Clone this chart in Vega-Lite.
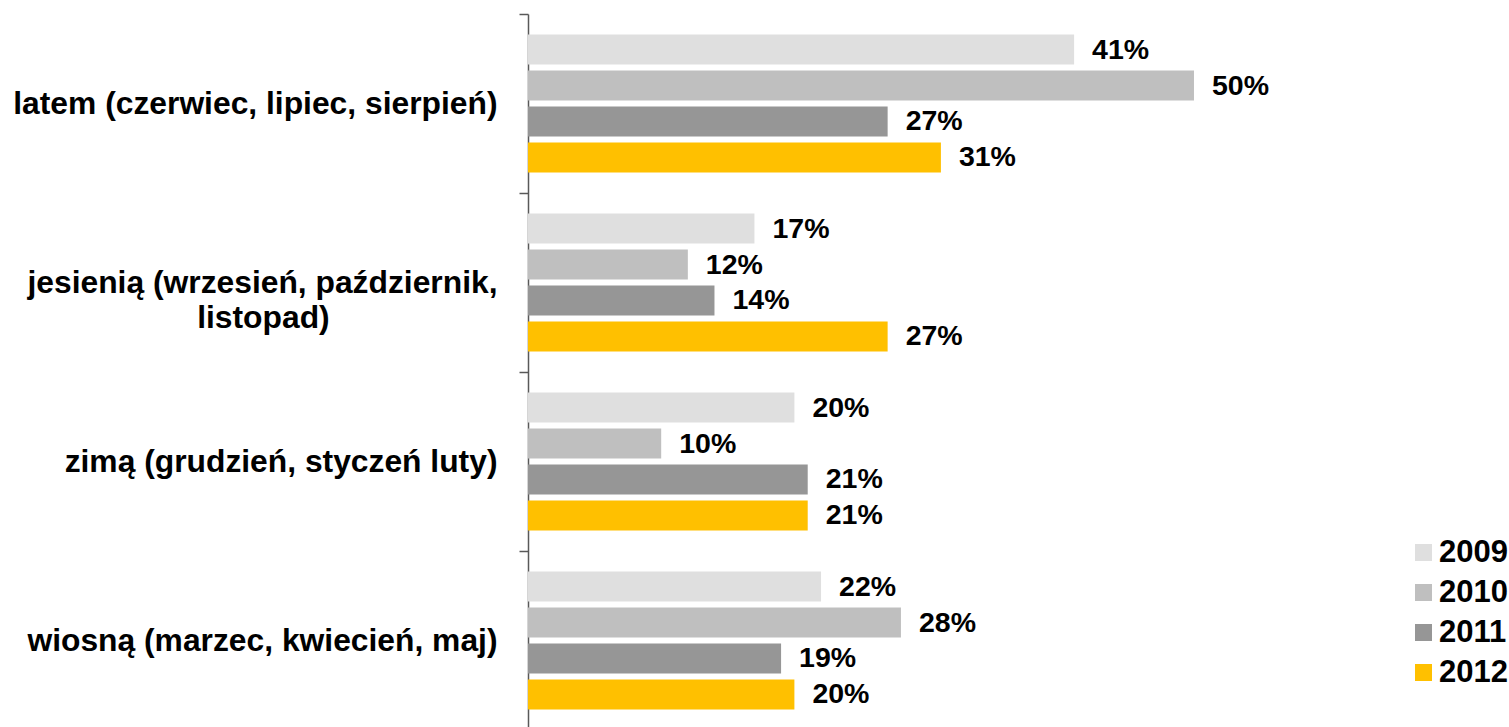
{
  "$schema": "https://vega.github.io/schema/vega-lite/v6.json",
  "autosize": "none",
  "padding": {"left": 528, "top": 14, "right": 0, "bottom": 0},
  "width": 981,
  "height": 716,
  "background": "white",
  "config": {"view": {"stroke": null}, "font": "Liberation Sans"},
  "data": {"values": [
    {"season": "latem (czerwiec, lipiec, sierpień)", "year": "2009", "value": 0.41},
    {"season": "latem (czerwiec, lipiec, sierpień)", "year": "2010", "value": 0.50},
    {"season": "latem (czerwiec, lipiec, sierpień)", "year": "2011", "value": 0.27},
    {"season": "latem (czerwiec, lipiec, sierpień)", "year": "2012", "value": 0.31},
    {"season": "jesienią (wrzesień, październik,|listopad)", "year": "2009", "value": 0.17},
    {"season": "jesienią (wrzesień, październik,|listopad)", "year": "2010", "value": 0.12},
    {"season": "jesienią (wrzesień, październik,|listopad)", "year": "2011", "value": 0.14},
    {"season": "jesienią (wrzesień, październik,|listopad)", "year": "2012", "value": 0.27},
    {"season": "zimą (grudzień, styczeń luty)", "year": "2009", "value": 0.20},
    {"season": "zimą (grudzień, styczeń luty)", "year": "2010", "value": 0.10},
    {"season": "zimą (grudzień, styczeń luty)", "year": "2011", "value": 0.21},
    {"season": "zimą (grudzień, styczeń luty)", "year": "2012", "value": 0.21},
    {"season": "wiosną (marzec, kwiecień, maj)", "year": "2009", "value": 0.22},
    {"season": "wiosną (marzec, kwiecień, maj)", "year": "2010", "value": 0.28},
    {"season": "wiosną (marzec, kwiecień, maj)", "year": "2011", "value": 0.19},
    {"season": "wiosną (marzec, kwiecień, maj)", "year": "2012", "value": 0.20}
  ]},
  "encoding": {
    "y": {
      "field": "season", "type": "nominal", "sort": null, "title": null,
      "scale": {"paddingInner": 0, "paddingOuter": 0},
      "axis": {
        "domainColor": "#595959", "domainWidth": 1.5,
        "tickColor": "#595959", "tickWidth": 1.5, "tickSize": 9, "tickBand": "extent",
        "labelFontSize": 31.8, "labelFontWeight": "bold", "labelColor": "#000000",
        "labelPadding": 22, "labelLimit": 0, "labelLineHeight": 35,
        "labelExpr": "indexof(datum.label,'|')>0 ? [split(datum.label,'|')[0], split(datum.label,'|')[1] + '\u00a0\u00a0\u00a0\u00a0\u00a0\u00a0\u00a0\u00a0\u00a0\u00a0\u00a0\u00a0\u00a0\u00a0\u00a0\u00a0\u00a0\u00a0\u00a0\u2060'] : datum.label"
      }
    },
    "yOffset": {
      "field": "year", "type": "nominal",
      "scale": {"paddingInner": 0.167, "paddingOuter": 0.57}
    },
    "x": {
      "field": "value", "type": "quantitative", "axis": null,
      "scale": {"domain": [0, 0.7365], "nice": false, "zero": true}
    }
  },
  "layer": [
    {
      "mark": {"type": "bar", "strokeWidth": 0},
      "encoding": {
        "color": {
          "field": "year", "type": "nominal", "title": null,
          "scale": {"domain": ["2009", "2010", "2011", "2012"], "range": ["#dfdfdf", "#bfbfbf", "#969696", "#ffc000"]},
          "legend": {
            "orient": "none", "legendX": 880, "legendY": 523,
            "symbolType": "square", "symbolSize": 289, "symbolStrokeWidth": 0,
            "labelFontSize": 31, "labelFontWeight": "bold", "labelColor": "#000000",
            "labelOffset": 0, "rowPadding": 8
          }
        }
      }
    },
    {
      "mark": {"type": "text", "align": "left", "baseline": "middle", "dx": 18, "fontSize": 28.5, "fontWeight": "bold", "color": "#000000"},
      "encoding": {
        "text": {"field": "value", "type": "quantitative", "format": ".0%"}
      }
    }
  ]
}
